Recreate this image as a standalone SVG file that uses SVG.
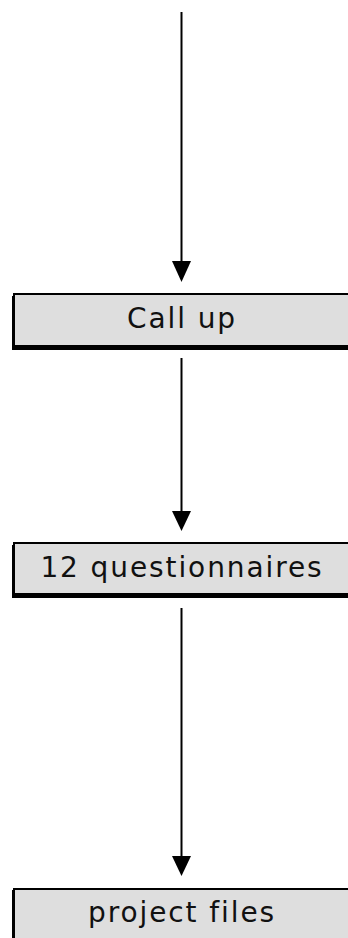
<svg xmlns="http://www.w3.org/2000/svg" width="348" height="938" viewBox="0 0 348 938">
<style>
.box{fill:#dedede;stroke:#000;stroke-width:2}
.shadow{fill:#000}
.lbl{font-family:"DejaVu Sans",Verdana,sans-serif;font-size:28px;letter-spacing:1.9px;fill:#111;text-anchor:middle}
.conn{stroke:#000;stroke-width:2;fill:none}
.head{fill:#000}
</style>
<g id="connectors">
<line class="conn" x1="181.5" y1="12" x2="181.5" y2="262"/>
<path class="head" d="M172,261 L191,261 L181.5,282 Z"/>
<line class="conn" x1="181.5" y1="358" x2="181.5" y2="512"/>
<path class="head" d="M172,511 L191,511 L181.5,531 Z"/>
<line class="conn" x1="181.5" y1="608" x2="181.5" y2="857"/>
<path class="head" d="M172,856 L191,856 L181.5,876 Z"/>
</g>
<g id="node-callup">
<rect class="shadow" x="12" y="296" width="350" height="54"/>
<rect class="box" x="14" y="294" width="350" height="52"/>
<text class="lbl" x="182" y="328">Call up</text>
</g>
<g id="node-questionnaires">
<rect class="shadow" x="12" y="545" width="350" height="53"/>
<rect class="box" x="14" y="543" width="350" height="51"/>
<text class="lbl" x="182" y="577">12 questionnaires</text>
</g>
<g id="node-projectfiles">
<rect class="shadow" x="12" y="890" width="350" height="60"/>
<rect class="box" x="14" y="889" width="350" height="60"/>
<text class="lbl" x="182" y="922">project files</text>
</g>
</svg>
